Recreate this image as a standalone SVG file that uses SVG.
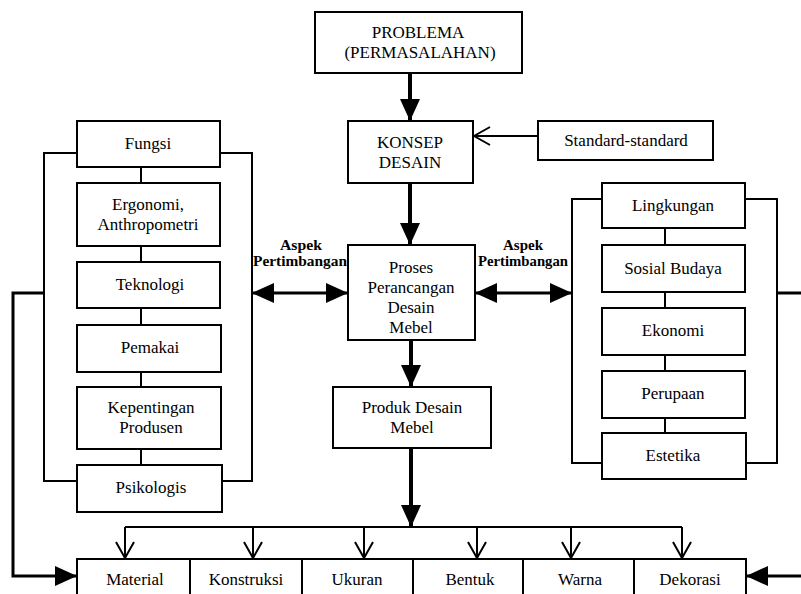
<svg xmlns="http://www.w3.org/2000/svg" width="801" height="594" viewBox="0 0 801 594">
<defs>
<style>
.box{fill:#fff;stroke:#000;stroke-width:2}
.t{font-family:"Liberation Serif","Times New Roman",serif;font-size:17px;fill:#000;text-anchor:middle}
.b{font-family:"Liberation Serif","Times New Roman",serif;font-size:14px;font-weight:bold;fill:#000;text-anchor:middle}
.ln{fill:none;stroke:#000;stroke-width:2}
.thick{fill:none;stroke:#000;stroke-width:4}
.med{fill:none;stroke:#000;stroke-width:3}
</style>
<marker id="fill" viewBox="0 0 22 20" refX="22" refY="10" markerWidth="22" markerHeight="20" markerUnits="userSpaceOnUse" orient="auto-start-reverse"><path d="M0,0 L22,10 L0,20 z" fill="#000"/></marker>
<marker id="open" viewBox="0 0 18 20" refX="17" refY="10" markerWidth="18" markerHeight="20" markerUnits="userSpaceOnUse" orient="auto"><path d="M1,1 L17,10 L1,19" fill="none" stroke="#000" stroke-width="2"/></marker>
</defs>
<rect width="801" height="594" fill="#fff"/>

<g id="connectors">
<path class="thick" d="M410,73 V121" marker-end="url(#fill)"/>
<path class="thick" d="M410,183 V245" marker-end="url(#fill)"/>
<path class="thick" d="M411,340 V387" marker-end="url(#fill)"/>
<path class="thick" d="M411,448 V527" marker-end="url(#fill)"/>
<path class="ln" d="M538,136 H474" marker-end="url(#open)"/>
<path class="med" d="M252,293 H348" marker-start="url(#fill)" marker-end="url(#fill)"/>
<path class="med" d="M475,293 H572" marker-start="url(#fill)" marker-end="url(#fill)"/>
<path class="ln" d="M77,153 H44 V481 H77 M220,153 H252 V481 H222"/>
<path class="ln" d="M602,199 H572 V463 H602 M745,199 H777 V463 H745"/>
<path class="ln" d="M141,167 V183 M141,246 V262 M141,308 V325 M141,372 V387 M141,449 V465"/>
<path class="ln" d="M665,228 V245 M665,292 V308 M665,355 V371 M665,418 V433"/>
<path class="med" d="M44,293 H13 V576 H77" marker-end="url(#fill)"/>
<path class="med" d="M777,293 H801"/>
<path class="med" d="M801,576 H746" marker-end="url(#fill)"/>
<path class="ln" d="M125,527 H682"/>
<path class="ln" d="M125,527 V558" marker-end="url(#open)"/>
<path class="ln" d="M253,527 V558" marker-end="url(#open)"/>
<path class="ln" d="M364,527 V558" marker-end="url(#open)"/>
<path class="ln" d="M477,527 V558" marker-end="url(#open)"/>
<path class="ln" d="M571,527 V558" marker-end="url(#open)"/>
<path class="ln" d="M682,527 V558" marker-end="url(#open)"/>
<text class="b" x="301" y="250" textLength="42" lengthAdjust="spacingAndGlyphs">Aspek</text>
<text class="b" x="300" y="266" textLength="94" lengthAdjust="spacingAndGlyphs">Pertimbangan</text>
<text class="b" x="523" y="250" textLength="40" lengthAdjust="spacingAndGlyphs">Aspek</text>
<text class="b" x="523" y="266" textLength="90" lengthAdjust="spacingAndGlyphs">Pertimbangan</text>
</g>

<g id="problema"><rect class="box" x="315" y="12" width="207" height="61"/><text class="t" x="418" y="38">PROBLEMA</text><text class="t" x="420" y="58">(PERMASALAHAN)</text></g>
<g id="konsep"><rect class="box" x="348" y="121" width="125" height="62"/><text class="t" x="410" y="148">KONSEP</text><text class="t" x="410" y="168">DESAIN</text></g>
<g id="standard"><rect class="box" x="538" y="121" width="175" height="39"/><text class="t" x="626" y="146">Standard-standard</text></g>
<g id="proses"><rect class="box" x="348" y="245" width="127" height="95"/><text class="t" x="411" y="273">Proses</text><text class="t" x="411" y="293">Perancangan</text><text class="t" x="411" y="313">Desain</text><text class="t" x="411" y="333">Mebel</text></g>
<g id="produk"><rect class="box" x="333" y="387" width="158" height="61"/><text class="t" x="412" y="413">Produk Desain</text><text class="t" x="412" y="433">Mebel</text></g>

<g id="fungsi"><rect class="box" x="77" y="121" width="143" height="46"/><text class="t" x="148" y="149">Fungsi</text></g>
<g id="ergonomi"><rect class="box" x="77" y="183" width="143" height="63"/><text class="t" x="148" y="210">Ergonomi,</text><text class="t" x="148" y="230">Anthropometri</text></g>
<g id="teknologi"><rect class="box" x="77" y="262" width="143" height="46"/><text class="t" x="150" y="290">Teknologi</text></g>
<g id="pemakai"><rect class="box" x="77" y="325" width="144" height="47"/><text class="t" x="150" y="353">Pemakai</text></g>
<g id="kepentingan"><rect class="box" x="77" y="387" width="144" height="62"/><text class="t" x="151" y="413">Kepentingan</text><text class="t" x="151" y="433">Produsen</text></g>
<g id="psikologis"><rect class="box" x="77" y="465" width="145" height="47"/><text class="t" x="151" y="493">Psikologis</text></g>

<g id="lingkungan"><rect class="box" x="602" y="183" width="143" height="45"/><text class="t" x="673" y="211">Lingkungan</text></g>
<g id="sosial"><rect class="box" x="602" y="245" width="143" height="47"/><text class="t" x="673" y="274">Sosial Budaya</text></g>
<g id="ekonomi"><rect class="box" x="602" y="308" width="143" height="47"/><text class="t" x="673" y="336">Ekonomi</text></g>
<g id="perupaan"><rect class="box" x="602" y="371" width="143" height="47"/><text class="t" x="673" y="399">Perupaan</text></g>
<g id="estetika"><rect class="box" x="602" y="433" width="144" height="46"/><text class="t" x="673" y="461">Estetika</text></g>

<g id="material"><rect class="box" x="77" y="559" width="113" height="45"/><text class="t" x="135" y="585">Material</text></g>
<g id="konstruksi"><rect class="box" x="190" y="559" width="112" height="45"/><text class="t" x="246" y="585">Konstruksi</text></g>
<g id="ukuran"><rect class="box" x="302" y="559" width="111" height="45"/><text class="t" x="357" y="585">Ukuran</text></g>
<g id="bentuk"><rect class="box" x="413" y="559" width="110" height="45"/><text class="t" x="470" y="585">Bentuk</text></g>
<g id="warna"><rect class="box" x="523" y="559" width="111" height="45"/><text class="t" x="580" y="585">Warna</text></g>
<g id="dekorasi"><rect class="box" x="634" y="559" width="112" height="45"/><text class="t" x="690" y="585">Dekorasi</text></g>
</svg>
